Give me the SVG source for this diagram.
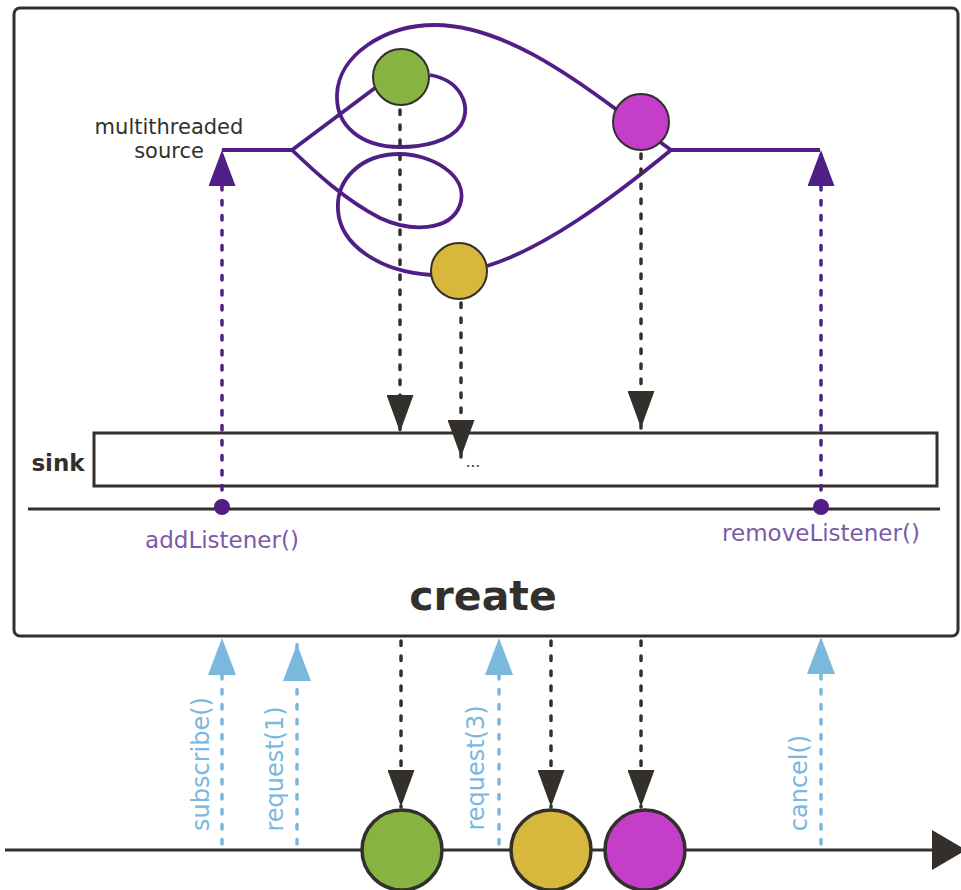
<svg xmlns="http://www.w3.org/2000/svg" width="961" height="890" viewBox="0 0 961 890">
  <defs>
    <style>
      .box { fill: #ffffff; stroke: #33302b; stroke-width: 3; }
      .solid { fill: none; stroke: #33302b; stroke-width: 3; }
      .flow { fill: none; stroke: #4f1f86; stroke-width: 3.8; stroke-linejoin: round; }
      .dot-dark { fill: none; stroke: #33302b; stroke-width: 3.5; stroke-dasharray: 4.5 10.5; stroke-linecap: round; }
      .dot-purple { fill: none; stroke: #4f1f86; stroke-width: 3.5; stroke-dasharray: 4.5 10.5; stroke-linecap: round; }
      .dot-blue { fill: none; stroke: #7ab8de; stroke-width: 3.5; stroke-dasharray: 4.5 10.5; stroke-linecap: round; }
      .small { stroke: #33302b; stroke-width: 2; }
      .big { stroke: #33302b; stroke-width: 3.5; }
      .green { fill: #86b341; }
      .yellow { fill: #d8b83c; }
      .magenta { fill: #c43ec9; }
      .t { font-family: "DejaVu Sans", Verdana, sans-serif; }
      .label { font-size: 21px; fill: #33302b; }
      .purple-label { font-size: 23px; fill: #7c5aa8; text-anchor: middle; }
      .blue-label { font-size: 24px; fill: #7ab8de; text-anchor: middle; }
    </style>
    <marker id="ah-dark" markerUnits="userSpaceOnUse" viewBox="0 0 37 27" refX="37" refY="13.5" markerWidth="37" markerHeight="27" orient="auto">
      <path d="M0,0 L37,13.5 L0,27 Z" fill="#33302b"/>
    </marker>
    <marker id="ah-purple" markerUnits="userSpaceOnUse" viewBox="0 0 36 27" refX="36" refY="13.5" markerWidth="36" markerHeight="27" orient="auto">
      <path d="M0,0 L36,13.5 L0,27 Z" fill="#4f1f86"/>
    </marker>
    <marker id="ah-blue" markerUnits="userSpaceOnUse" viewBox="0 0 37 28" refX="37" refY="14" markerWidth="37" markerHeight="28" orient="auto">
      <path d="M0,0 L37,14 L0,28 Z" fill="#7ab8de"/>
    </marker>
    <marker id="ah-big" markerUnits="userSpaceOnUse" viewBox="0 0 34 40" refX="34" refY="20" markerWidth="34" markerHeight="40" orient="auto">
      <path d="M0,0 L34,20 L0,40 Z" fill="#33302b"/>
    </marker>
  </defs>

  <g id="create-operator">
    <rect class="box" x="14" y="8" width="944" height="628" rx="6"/>
    <text class="t" x="483" y="610" font-size="41" font-weight="bold" fill="#33302b" text-anchor="middle">create</text>
  </g>

  <g id="source">
    <text class="t label" x="169" y="134" text-anchor="middle">multithreaded</text>
    <text class="t label" x="169" y="158" text-anchor="middle">source</text>
  </g>

  <g id="sink">
    <rect class="box" x="94" y="433" width="843" height="53"/>
    <text class="t" x="58" y="471" font-size="23" font-weight="bold" fill="#33302b" text-anchor="middle">sink</text>
    <text class="t" x="473" y="467" font-size="15" fill="#33302b" text-anchor="middle">...</text>
  </g>

  <g id="sink-timeline">
    <line class="solid" x1="28" y1="509" x2="940" y2="509"/>
  </g>

  <g id="connectors">
    <!-- source threads -->
    <path class="flow" d="M222,150 L292,150 L375,88"/>
    <path class="flow" d="M430,75 C460,80 472,105 461,125 C450,142 422,147 400,147 C360,147 336,125 337,95 C338,55 385,25 435,25 C500,25 570,75 617,110"/>
    <path class="flow" d="M292,150 C315,172 345,200 380,218 C410,232 450,232 460,205 C470,175 430,154 400,154 C360,154 336,180 338,210 C340,245 380,272 432,275"/>
    <path class="flow" d="M487,266 C545,248 610,200 671,150"/>
    <path class="flow" d="M660,142 L671,150 L820,150"/>

    <!-- listener arrows -->
    <line class="dot-purple" x1="222" y1="505" x2="222" y2="150" marker-end="url(#ah-purple)"/>
    <line class="dot-purple" x1="821" y1="505" x2="821" y2="150" marker-end="url(#ah-purple)"/>

    <!-- emissions into sink -->
    <line class="dot-dark" x1="400" y1="110" x2="400" y2="432" marker-end="url(#ah-dark)"/>
    <line class="dot-dark" x1="461" y1="303" x2="461" y2="457" marker-end="url(#ah-dark)"/>
    <line class="dot-dark" x1="641" y1="154" x2="641" y2="428" marker-end="url(#ah-dark)"/>

    <!-- downstream emissions -->
    <line class="dot-dark" x1="401" y1="641" x2="401" y2="807" marker-end="url(#ah-dark)"/>
    <line class="dot-dark" x1="551" y1="641" x2="551" y2="807" marker-end="url(#ah-dark)"/>
    <line class="dot-dark" x1="641" y1="641" x2="641" y2="807" marker-end="url(#ah-dark)"/>

    <!-- upstream signals -->
    <line class="dot-blue" x1="222" y1="844" x2="222" y2="638" marker-end="url(#ah-blue)"/>
    <line class="dot-blue" x1="297" y1="844" x2="297" y2="644" marker-end="url(#ah-blue)"/>
    <line class="dot-blue" x1="499" y1="844" x2="499" y2="638" marker-end="url(#ah-blue)"/>
    <line class="dot-blue" x1="821" y1="844" x2="821" y2="637" marker-end="url(#ah-blue)"/>

    <!-- output timeline -->
    <line class="solid" x1="5" y1="850" x2="966" y2="850" marker-end="url(#ah-big)"/>
  </g>

  <g id="listener-dots">
    <circle cx="222" cy="507" r="8" fill="#4f1f86"/>
    <circle cx="821" cy="507" r="8" fill="#4f1f86"/>
  </g>

  <g id="listener-labels">
    <text class="t purple-label" x="222" y="548">addListener()</text>
    <text class="t purple-label" x="821" y="541">removeListener()</text>
  </g>

  <g id="source-green"><circle class="green small" cx="401" cy="77" r="28"/></g>
  <g id="source-magenta"><circle class="magenta small" cx="641" cy="122" r="28"/></g>
  <g id="source-yellow"><circle class="yellow small" cx="459" cy="271" r="28"/></g>

  <g id="out-green"><circle class="green big" cx="402" cy="850" r="40"/></g>
  <g id="out-yellow"><circle class="yellow big" cx="551" cy="850" r="40"/></g>
  <g id="out-magenta"><circle class="magenta big" cx="645" cy="850" r="40"/></g>

  <g id="request-labels">
    <text class="t blue-label" transform="translate(209,764) rotate(-90)">subscribe()</text>
    <text class="t blue-label" transform="translate(283,769) rotate(-90)">request(1)</text>
    <text class="t blue-label" transform="translate(484,768) rotate(-90)">request(3)</text>
    <text class="t blue-label" transform="translate(807,783) rotate(-90)">cancel()</text>
  </g>
</svg>
